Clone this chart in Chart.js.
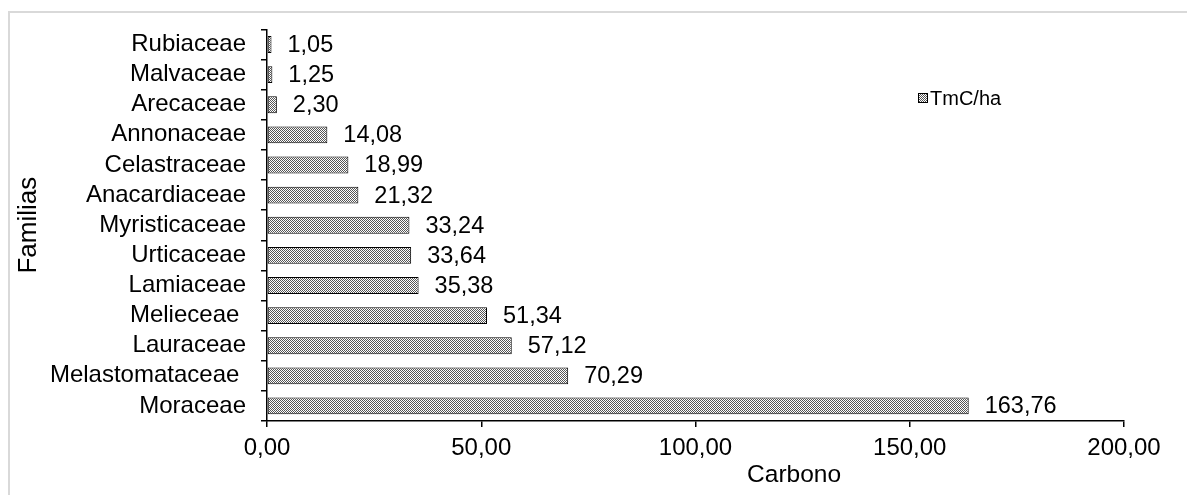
<!DOCTYPE html>
<html>
<head>
<meta charset="utf-8">
<script src="https://cdn.jsdelivr.net/npm/chart.js@4/dist/chart.umd.min.js"></script>
<style>
  html, body { margin: 0; padding: 0; background: #fff; }
  #wrap { width: 1187px; height: 495px; position: relative; }
</style>
</head>
<body>
<div id="wrap"><canvas id="c" width="1187" height="495"></canvas></div>
<script>
// Carbon stock per botanical family
const familias = [
  'Rubiaceae', 'Malvaceae', 'Arecaceae', 'Annonaceae', 'Celastraceae',
  'Anacardiaceae', 'Myristicaceae', 'Urticaceae', 'Lamiaceae', 'Melieceae ',
  'Lauraceae', 'Melastomataceae ', 'Moraceae'
];
const carbono = [1.05, 1.25, 2.30, 14.08, 18.99, 21.32, 33.24, 33.64, 35.38, 51.34, 57.12, 70.29, 163.76];
const xTicks = [0, 50, 100, 150, 200];
const serieLabel = 'TmC/ha';
const xTitle = 'Carbono';
const yTitle = 'Familias';

const FONT = "'Liberation Sans', Arial, sans-serif";
const fmt = v => v.toFixed(2).replace('.', ',');

const canvas = document.getElementById('c');
const ctx = canvas.getContext('2d');

// fine checkerboard fill used for the bars and the legend swatch
function checker() {
  const p = document.createElement('canvas');
  p.width = 2; p.height = 2;
  const g = p.getContext('2d');
  g.fillStyle = '#ffffff'; g.fillRect(0, 0, 2, 2);
  g.fillStyle = '#555555'; g.fillRect(0, 0, 1, 1); g.fillRect(1, 1, 1, 1);
  return ctx.createPattern(p, 'repeat');
}
const pattern = checker();

// light frame around the plot
const framePlugin = {
  id: 'frame',
  beforeDraw(chart) {
    const c = chart.ctx;
    c.save();
    c.fillStyle = '#fff';
    c.fillRect(0, 0, chart.width, chart.height);
    c.strokeStyle = '#d9d9d9';
    c.lineWidth = 2;
    c.strokeRect(9, 12, chart.width + 20, chart.height + 20);
    c.restore();
  }
};

// value printed beside each bar
const valueLabels = {
  id: 'valueLabels',
  afterDatasetsDraw(chart) {
    const c = chart.ctx;
    const meta = chart.getDatasetMeta(0);
    c.save();
    c.font = `23.5px ${FONT}`;
    c.fillStyle = '#000';
    c.textAlign = 'left';
    c.textBaseline = 'middle';
    meta.data.forEach((bar, i) => {
      c.fillText(fmt(carbono[i]), bar.x + 16, bar.y + 1);
    });
    c.restore();
  }
};

// horizontal axis title, set a little right of the plot centre
const xTitlePlugin = {
  id: 'xTitle',
  afterDraw(chart) {
    const c = chart.ctx;
    const a = chart.chartArea;
    c.save();
    c.font = `24.5px ${FONT}`;
    c.fillStyle = '#000';
    c.textAlign = 'center';
    c.textBaseline = 'middle';
    c.fillText(xTitle, a.left + (a.right - a.left) * 0.615, 475);
    c.restore();
  }
};

// series key inside the plot area
const keyPlugin = {
  id: 'key',
  afterDraw(chart) {
    const c = chart.ctx;
    const a = chart.chartArea;
    const x = a.right - 206, y = 98;
    c.save();
    c.fillStyle = pattern;
    c.fillRect(x, y - 5, 10, 10);
    c.strokeStyle = '#000';
    c.lineWidth = 1;
    c.strokeRect(x + 0.5, y - 4.5, 9, 9);
    c.fillStyle = '#000';
    c.font = `20px ${FONT}`;
    c.textAlign = 'left';
    c.textBaseline = 'middle';
    c.fillText(chart.data.datasets[0].label, x + 12, y + 1);
    c.restore();
  }
};

new Chart(canvas, {
  type: 'bar',
  data: {
    labels: familias,
    datasets: [{
      label: serieLabel,
      data: carbono,
      backgroundColor: pattern,
      borderColor: '#000',
      borderWidth: 1,
      borderSkipped: false,
      barPercentage: 0.56,
      categoryPercentage: 1
    }]
  },
  options: {
    indexAxis: 'y',
    responsive: false,
    animation: false,
    devicePixelRatio: 1,
    layout: { padding: { left: 0, right: 63, top: 22, bottom: 0 } },
    plugins: {
      legend: { display: false },
      tooltip: { enabled: false }
    },
    scales: {
      x: {
        type: 'linear',
        min: xTicks[0],
        max: xTicks[xTicks.length - 1],
        afterBuildTicks(s) { s.ticks = xTicks.map(v => ({ value: v })); },
        ticks: {
          color: '#000',
          font: { family: FONT, size: 24 },
          padding: 7,
          maxRotation: 0,
          callback: v => fmt(v)
        },
        grid: { drawOnChartArea: false, drawTicks: true, tickLength: 6, color: '#000', lineWidth: 1.5 },
        border: { display: true, color: '#000', width: 1.5 },
        title: { display: false, text: xTitle },
        afterFit(s) { s.height = 74; }
      },
      y: {
        ticks: {
          color: '#000',
          font: { family: FONT, size: 24 },
          padding: 15,
          autoSkip: false
        },
        grid: { drawOnChartArea: false, drawTicks: true, tickLength: 6, color: '#000', lineWidth: 1.5, offset: true },
        border: { display: true, color: '#000', width: 1.5 },
        title: {
          display: true, text: yTitle, color: '#000',
          font: { family: FONT, size: 26 },
          padding: { top: 13, bottom: 0 }
        },
        afterFit(s) { s.width = 267; }
      }
    }
  },
  plugins: [framePlugin, valueLabels, xTitlePlugin, keyPlugin]
});
</script>
</body>
</html>
